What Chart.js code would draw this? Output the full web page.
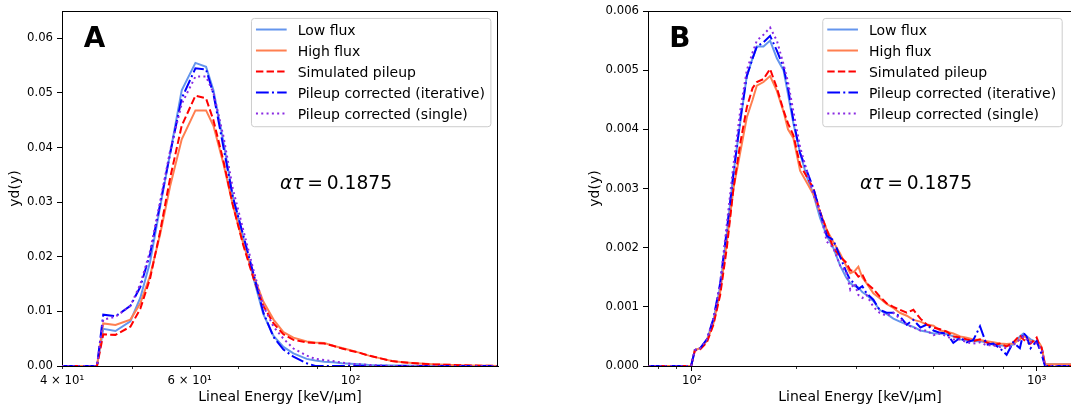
<!DOCTYPE html>
<html>
<head>
<meta charset="utf-8">
<script src="https://cdn.jsdelivr.net/npm/chart.js@4"></script>
<style>
  html, body { margin: 0; padding: 0; background: #fff; overflow: hidden; }
  #wrapA { position: absolute; left: 0; top: 0; width: 520px; height: 415px; }
  #wrapB { position: absolute; left: 540px; top: 0; width: 540px; height: 415px; }
</style>
</head>
<body>
<div id="wrapA"><canvas id="chartA"></canvas></div>
<div id="wrapB"><canvas id="chartB"></canvas></div>
<script>
const seriesNames = ['Low flux', 'High flux', 'Simulated pileup',
  'Pileup corrected (iterative)', 'Pileup corrected (single)'];
const alphaTau = '0.1875';

// Panel A
const xA = [40, 44.7, 45.6, 47.4, 49.7, 51.3, 52.9, 54.6, 56.4, 58.5,
  61.1, 63.2, 64.7, 66.8, 68.8, 71.1, 73.5, 75.8, 78.3, 80.8,
  83.4, 87.0, 89.4, 92, 94.6, 97.3, 100, 103, 106, 110,
  114, 118, 123, 130, 138, 146, 155, 160];
const lowA = [0, 0, 0.0068, 0.0064, 0.0082, 0.0125, 0.019, 0.029, 0.039, 0.0505,
  0.0555, 0.0548, 0.0505, 0.041, 0.031, 0.0235, 0.016, 0.0095, 0.0055, 0.0035,
  0.0023, 0.0013, 0.001, 0.0008, 0.0007, 0.0005, 0.0004, 0.0003, 0.0002, 0.00015,
  0.0001, 0.0001, 0.00005, 0.00003, 0, 0, 0, 0];
const highA = [0, 0, 0.0078, 0.0075, 0.0085, 0.0115, 0.0165, 0.024, 0.033, 0.0415,
  0.0468, 0.0468, 0.044, 0.037, 0.0295, 0.0225, 0.0165, 0.0118, 0.0085, 0.0062,
  0.0052, 0.0045, 0.0043, 0.0042, 0.0037, 0.0033, 0.0029, 0.0024, 0.0019, 0.0014,
  0.0009, 0.0007, 0.0005, 0.0003, 0.0002, 0.0001, 0.00005, 0];
const simA = [0, 0, 0.0058, 0.0057, 0.0072, 0.0105, 0.016, 0.0245, 0.0345, 0.044,
  0.0495, 0.049, 0.045, 0.0375, 0.0295, 0.0222, 0.016, 0.011, 0.0078, 0.0058,
  0.0048, 0.0043, 0.0042, 0.0041, 0.0037, 0.0032, 0.0028, 0.0024, 0.0019, 0.0014,
  0.0009, 0.0007, 0.0005, 0.0003, 0.0002, 0.0001, 0.00005, 0];
const iterA = [0, 0, 0.0094, 0.0091, 0.011, 0.0145, 0.0205, 0.0295, 0.039, 0.049,
  0.0545, 0.0543, 0.0498, 0.04, 0.031, 0.024, 0.0168, 0.0098, 0.0053, 0.003,
  0.0017, 0.0005, 0, 0, 0, 0, 0, 0, 0, 0,
  0, 0, 0, 0, 0, 0, 0, 0];
const singleA = [0, 0, 0.0085, 0.009, 0.011, 0.015, 0.021, 0.03, 0.0395, 0.048,
  0.053, 0.053, 0.05, 0.042, 0.0325, 0.025, 0.0175, 0.011, 0.0072, 0.005,
  0.0032, 0.0019, 0.0013, 0.0011, 0.0009, 0.0006, 0.0004, 0.0003, 0.0002, 0.0001,
  0, 0, 0, 0, 0, 0, 0, 0];
const xTicksA = [40, 50, 60, 70, 80, 90, 100];
const xMajorA = [100];
const xLabelsA = { 40: '4 × 10¹', 60: '6 × 10¹', 100: '10²' };
const yTicksA = [0, 0.01, 0.02, 0.03, 0.04, 0.05, 0.06];

// Panel B
const xB = [75, 99.5, 102, 105.7, 110.5, 115.5, 120.8, 126.3, 132, 138,
  144.3, 150, 154.3, 161.3, 168.6, 176.4, 184.4, 190, 197, 206,
  215.4, 225.2, 235.5, 246.2, 257, 269, 280, 288, 296, 304,
  312, 321, 336, 350, 367, 384, 401, 420, 439, 460,
  480, 502, 525, 549, 573, 600, 627, 655, 685, 716,
  748, 782, 818, 855, 894, 915, 935, 960, 1000, 1020,
  1034, 1057, 1100, 1266];
const lowB = [0, 0, 0.00027, 0.0003, 0.00044, 0.00078, 0.00134, 0.00224, 0.00325, 0.0041,
  0.0049, 0.0052, 0.0054, 0.0054, 0.0055, 0.0052, 0.005, 0.0046, 0.0041, 0.0036,
  0.0032, 0.0029, 0.0025, 0.0022, 0.002, 0.0017, 0.0015, 0.0014, 0.00135, 0.00133,
  0.00125, 0.0012, 0.0011, 0.00095, 0.00088, 0.0008, 0.00075, 0.0007, 0.00066, 0.0006,
  0.00058, 0.00055, 0.00055, 0.00054, 0.0005, 0.00045, 0.00043, 0.00042, 0.00042, 0.0004,
  0.00036, 0.00035, 0.00034, 0.00036, 0.0005, 0.00055, 0.0005, 0.00045, 0.0004, 0.00035,
  0.0003, 0.00003, 0.00003, 0.00003];
const highB = [0, 0, 0.00027, 0.0003, 0.00042, 0.00072, 0.00125, 0.0021, 0.003, 0.0036,
  0.0042, 0.0045, 0.00474, 0.0048, 0.0049, 0.00465, 0.0043, 0.004, 0.00385, 0.0033,
  0.0031, 0.0029, 0.0026, 0.0023, 0.0021, 0.0019, 0.0017, 0.00157, 0.0016, 0.00168,
  0.0015, 0.0014, 0.00123, 0.00115, 0.00105, 0.00098, 0.0009, 0.00085, 0.00078, 0.00075,
  0.0007, 0.00068, 0.0006, 0.00058, 0.00055, 0.0005, 0.00048, 0.00045, 0.00044, 0.00042,
  0.0004, 0.00038, 0.00037, 0.00038, 0.00045, 0.0005, 0.00048, 0.00042, 0.0004, 0.00038,
  0.00032, 0.00003, 0.00003, 0.00003];
const simB = [0, 0, 0.00026, 0.00028, 0.0004, 0.0007, 0.0012, 0.002, 0.003, 0.00375,
  0.00437, 0.0047, 0.0048, 0.00485, 0.00502, 0.0047, 0.00432, 0.0041, 0.0039, 0.0034,
  0.0032, 0.003, 0.0026, 0.0023, 0.002, 0.00185, 0.00175, 0.00162, 0.0016, 0.00151,
  0.00155, 0.0014, 0.0013, 0.00118, 0.00106, 0.001, 0.00095, 0.0009, 0.00095, 0.0008,
  0.0007, 0.00065, 0.00062, 0.00058, 0.0005, 0.00048, 0.00045, 0.00042, 0.00045, 0.0004,
  0.00035, 0.00038, 0.00033, 0.0004, 0.00052, 0.00045, 0.0004, 0.00038, 0.00048, 0.00035,
  0.0003, 0, 0, 0];
const iterB = [0, 0, 0.00027, 0.0003, 0.00045, 0.0008, 0.0014, 0.0023, 0.00325, 0.00415,
  0.0049, 0.0052, 0.0054, 0.00547, 0.00558, 0.00533, 0.00505, 0.0047, 0.00415, 0.0036,
  0.0033, 0.003, 0.0026, 0.0022, 0.00213, 0.00185, 0.0016, 0.00145, 0.0014, 0.0013,
  0.00135, 0.00123, 0.00112, 0.00095, 0.0009, 0.0009, 0.00084, 0.0007, 0.00078, 0.00065,
  0.0007, 0.0006, 0.00056, 0.00055, 0.00039, 0.00048, 0.0004, 0.00044, 0.00067, 0.00036,
  0.00038, 0.0003, 0.00019, 0.0004, 0.0003, 0.00056, 0.0005, 0.0003, 0.00042, 0.00028,
  0.0002, 0, 0, 0];
const singleB = [0, 0, 0.00027, 0.0003, 0.00045, 0.0008, 0.0014, 0.0024, 0.0034, 0.0043,
  0.005, 0.0053, 0.0055, 0.0056, 0.00572, 0.0055, 0.0051, 0.0048, 0.0043, 0.0037,
  0.0033, 0.0029, 0.0026, 0.0021, 0.002, 0.0017, 0.0016, 0.00129, 0.0014, 0.0012,
  0.00115, 0.0012, 0.001, 0.0009, 0.00085, 0.0009, 0.0008, 0.0007, 0.00065, 0.0006,
  0.0006, 0.00052, 0.00055, 0.0005, 0.00045, 0.00045, 0.0004, 0.00038, 0.0004, 0.00035,
  0.00035, 0.00032, 0.0003, 0.00035, 0.00045, 0.0005, 0.00045, 0.0004, 0.00038, 0.00032,
  0.0003, 0, 0, 0];
const xTicksB = [80, 90, 100, 200, 300, 400, 500, 600, 700, 800, 900, 1000];
const xMajorB = [100, 1000];
const xLabelsB = { 100: '10²', 1000: '10³' };
const yTicksB = [0, 0.001, 0.002, 0.003, 0.004, 0.005, 0.006];

const lineStyles = [
  { color: '#6495ED', dash: [] },
  { color: '#FF7F50', dash: [] },
  { color: '#FF0000', dash: [7.4, 3.2] },
  { color: '#0000FF', dash: [12.8, 3.2, 2, 3.2] },
  { color: '#8A2BE2', dash: [2, 3.3] }
];

Chart.defaults.font.family = '"DejaVu Sans"';
Chart.defaults.color = '#000';

const panelDecor = {
  id: 'panelDecor',
  afterDatasetsDraw(chart, args, opts) {
    const ctx = chart.ctx, a = chart.chartArea;
    const w = a.right - a.left, h = a.bottom - a.top;
    ctx.save();
    ctx.fillStyle = '#000';
    ctx.textAlign = 'left';
    ctx.textBaseline = 'alphabetic';
    ctx.font = 'bold 27.8px "DejaVu Sans"';
    ctx.fillText(opts.letter, a.left + 0.05 * w, a.top + 0.1 * h);

    let tx = a.left + 0.5 * w;
    const ty = a.top + 0.5 * h;
    ctx.font = 'italic 18.7px "DejaVu Sans"';
    ctx.fillText('ατ', tx, ty);
    tx += ctx.measureText('ατ').width;
    ctx.font = '18.7px "DejaVu Sans"';
    ctx.fillText('\u2009=\u20090.1875'.replace('0.1875', alphaTau), tx, ty);

    // legend box
    ctx.font = '14px "DejaVu Sans"';
    const sets = chart.data.datasets;
    const tw = Math.max(...sets.map(d => ctx.measureText(d.label).width));
    const bw = 46.7 + tw + 5.5, bh = 108.3;
    const bx = a.right - opts.inset - bw, by = a.top + 6.9;
    ctx.beginPath();
    ctx.roundRect(bx + 0.5, by + 0.5, bw, bh, 3);
    ctx.fillStyle = 'rgba(255,255,255,0.8)';
    ctx.fill();
    ctx.strokeStyle = '#cccccc';
    ctx.lineWidth = 1;
    ctx.stroke();
    sets.forEach((d, i) => {
      const cy = by + 11.6 + 21 * i;
      ctx.beginPath();
      ctx.setLineDash(d.borderDash || []);
      ctx.strokeStyle = d.borderColor;
      ctx.lineWidth = 2;
      ctx.moveTo(bx + 5, cy);
      ctx.lineTo(bx + 35.7, cy);
      ctx.stroke();
      ctx.setLineDash([]);
      ctx.fillStyle = '#000';
      ctx.fillText(d.label, bx + 46.7, cy + 5.1);
    });
    ctx.restore();
  },
  afterDraw(chart) {
    const ctx = chart.ctx, a = chart.chartArea;
    const xs = chart.scales.x;
    ctx.save();
    ctx.strokeStyle = '#000';
    ctx.lineWidth = 1;
    ctx.beginPath();
    const t = Math.round(a.top) + 0.5, r = Math.round(a.right) - 0.5;
    ctx.moveTo(a.left, t);
    ctx.lineTo(r, t);
    ctx.lineTo(r, a.bottom);
    ctx.stroke();
    ctx.lineWidth = 0.8;
    xs.ticks.forEach(tk => {
      if (!tk.minor) return;
      const px = Math.round(xs.getPixelForValue(tk.value)) + 0.5;
      ctx.beginPath();
      ctx.moveTo(px, a.bottom);
      ctx.lineTo(px, a.bottom + 3);
      ctx.stroke();
    });
    ctx.restore();
  }
};

function makePanel(id, p) {
  const series = [p.low, p.high, p.sim, p.iter, p.single];
  const datasets = series.map((ys, i) => ({
    label: seriesNames[i],
    data: p.x.map((x, j) => ({ x: x, y: ys[j] })),
    borderColor: lineStyles[i].color,
    borderDash: lineStyles[i].dash,
    borderWidth: 2,
    pointRadius: 0,
    tension: 0,
    fill: false,
    order: 5 - i
  }));
  const tickFont = { size: 11.7 };
  return new Chart(document.getElementById(id), {
    type: 'line',
    data: { datasets: datasets },
    options: {
      responsive: true,
      maintainAspectRatio: false,
      animation: false,
      layout: { padding: p.padding },
      plugins: {
        legend: { display: false },
        tooltip: { enabled: false },
        panelDecor: { letter: p.letter, inset: p.inset }
      },
      scales: {
        x: {
          type: 'logarithmic',
          min: p.xMin,
          max: p.xMax,
          afterBuildTicks: s => {
            s.ticks = p.xTicks.map(v => ({ value: v, minor: !p.xMajor.includes(v) }));
          },
          afterFit: s => { s.height = 49; },
          ticks: {
            autoSkip: false, maxRotation: 0, padding: 3, font: tickFont, color: '#000',
            callback: v => p.xLabels[v] || ''
          },
          grid: {
            drawOnChartArea: false, tickLength: 5, tickWidth: 1,
            tickColor: c => (c.tick && c.tick.minor) ? 'rgba(0,0,0,0)' : '#000'
          },
          border: { color: '#000', width: 1 },
          title: {
            display: true, text: 'Lineal Energy [keV/µm]', color: '#000',
            font: { size: 14 }, padding: { top: 0, bottom: 9 }
          }
        },
        y: {
          type: 'linear',
          min: 0,
          max: p.yMax,
          afterBuildTicks: s => { s.ticks = p.yTicks.map(v => ({ value: v })); },
          afterFit: s => { s.width = p.yWidth; },
          ticks: {
            padding: 4, font: tickFont, color: '#000',
            callback: v => v.toFixed(p.yDigits)
          },
          grid: { drawOnChartArea: false, tickLength: 5, tickWidth: 1, tickColor: '#000' },
          border: { color: '#000', width: 1 },
          title: {
            display: true, text: 'yd(y)', color: '#000',
            font: { size: 14 }, padding: { top: 7, bottom: 0 }
          }
        }
      }
    },
    plugins: [panelDecor]
  });
}

makePanel('chartA', {
  x: xA, low: lowA, high: highA, sim: simA, iter: iterA, single: singleA,
  xMin: 40, xMax: 159.7, xTicks: xTicksA, xMajor: xMajorA, xLabels: xLabelsA,
  yMax: 0.065, yTicks: yTicksA, yDigits: 2, yWidth: 62,
  padding: { left: 0, right: 22, top: 6, bottom: 0 },
  letter: 'A', inset: 7.6
});

makePanel('chartB', {
  x: xB, low: lowB, high: highB, sim: simB, iter: iterB, single: singleB,
  xMin: 74.6, xMax: 1266, xTicks: xTicksB, xMajor: xMajorB, xLabels: xLabelsB,
  yMax: 0.006, yTicks: yTicksB, yDigits: 3, yWidth: 68,
  padding: { left: 40, right: 8, top: 10, bottom: 0 },
  letter: 'B', inset: 10.3
});
</script>
</body>
</html>
